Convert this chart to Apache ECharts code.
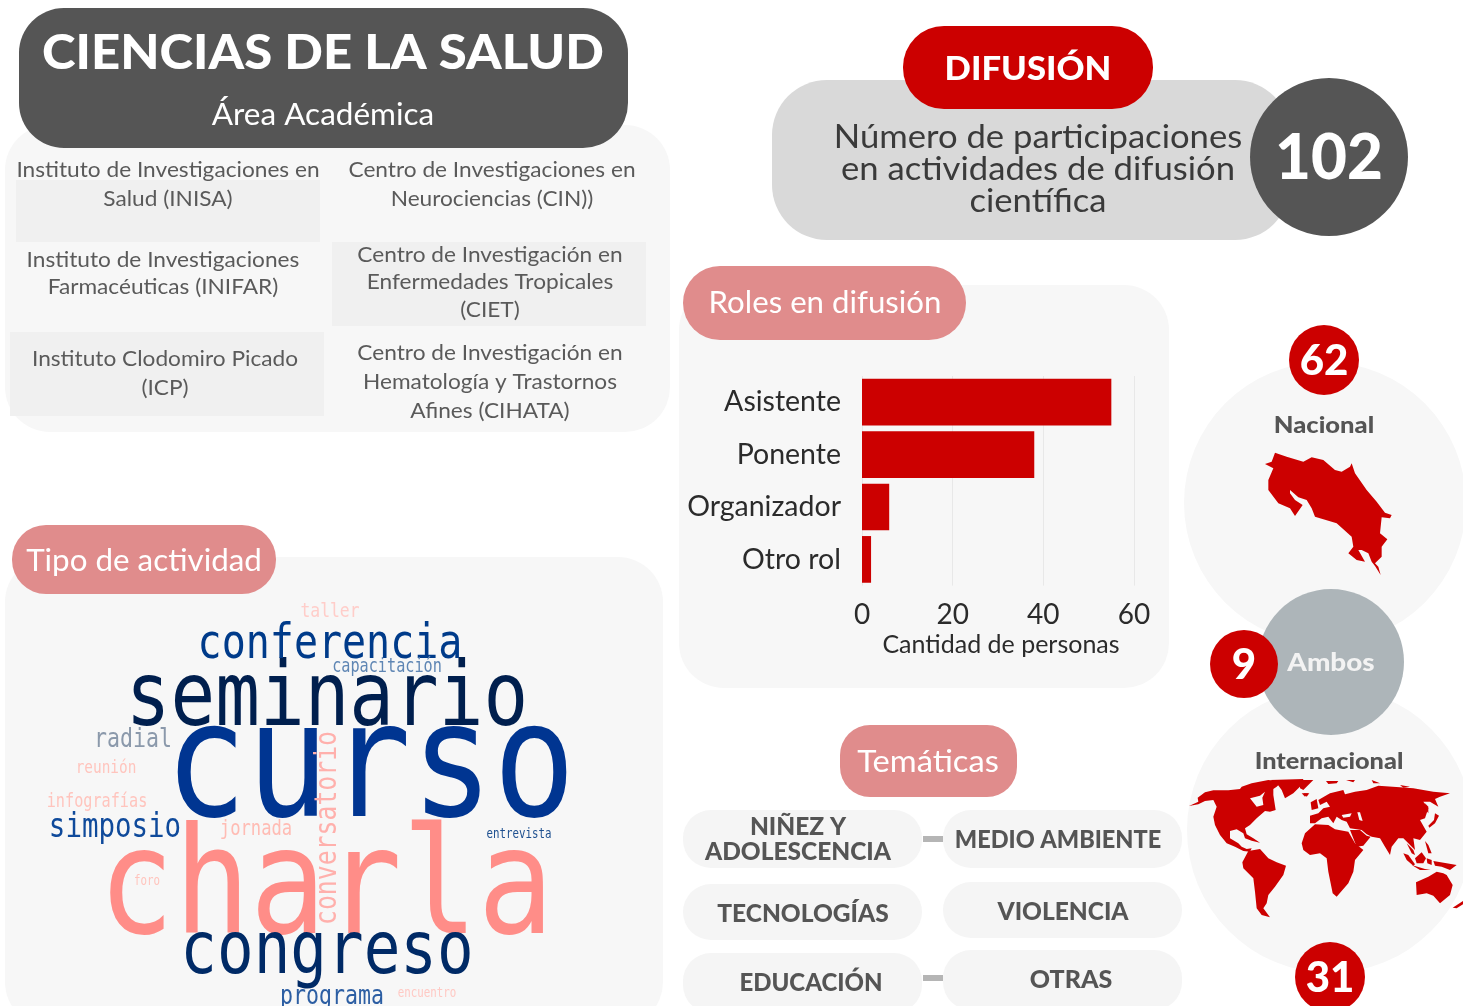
<!DOCTYPE html>
<html lang="es"><head><meta charset="utf-8"><title>Ciencias de la Salud</title>
<style>html,body{margin:0;padding:0;background:#fff}#c{width:1463px;height:1006px}</style>
<script src="https://cdn.jsdelivr.net/npm/echarts@6/dist/echarts.min.js"></script></head>
<body><div id="c"></div>
<script>
const roleCategories = ['Asistente','Ponente','Organizador','Otro rol'];
const roleValues = [55,38,6,2];
const roleTicks = [0,20,40,60];
const cloudWords = ['curso','charla','seminario','congreso','conferencia','simposio','conversatorio','radial','programa','jornada','capacitación','taller','reunión','infografías','entrevista','foro','encuentro'];
const cloudFreq = [32.8,30.3,18.2,15,10,6.8,6.2,5.4,5.4,4.3,3.8,4.1,3.6,3.8,2.7,2.7,2.7];
const totalParticipaciones = 102;
const alcanceLabels = ['Nacional','Ambos','Internacional'];
const alcanceValues = [62,9,31];
const institutos = ['Instituto de Investigaciones en\nSalud (INISA)','Centro de Investigaciones en\nNeurociencias (CIN))','Instituto de Investigaciones\nFarmacéuticas (INIFAR)','Centro de Investigación en\nEnfermedades Tropicales\n(CIET)','Instituto Clodomiro Picado\n(ICP)','Centro de Investigación en\nHematología y Trastornos\nAfines (CIHATA)'];
const tematicas = ['NIÑEZ Y\nADOLESCENCIA','MEDIO AMBIENTE','TECNOLOGÍAS','VIOLENCIA','EDUCACIÓN','OTRAS'];

const RED='#cc0000', DARK='#555555', PANEL='#f7f7f7', PINK='#e08c8c', SANS='Lato, "Open Sans", sans-serif';

// word-cloud placement (centre x, centre y, colour, horizontal stretch, rotated)
const cloudPlace = {
 curso:[370,774,'#003591',1.04], charla:[326,895,'#ff8d88',1.04], seminario:[327,702,'#001f4e',1.02], congreso:[327,954,'#002a66',1.015],
 conferencia:[330,645,'#003b8a',1.0], simposio:[115,828,'#0f4a9b',1.01], conversatorio:[328,828,'#ffb0ac',1,1], radial:[133,740,'#8b99ab',1],
 programa:[332,997,'#2c5ea3',1], jornada:[256,830,'#ffbcb4',1], capacitación:[387,667,'#5f86b4',1], taller:[330,612,'#ffcdc9',1],
 reunión:[106,768,'#ffc4bd',1], infografías:[97,802,'#ffc4bd',1], entrevista:[519,835,'#1d4f8f',1], foro:[147,882,'#ffc4bd',1], encuentro:[427,994,'#ffc9c4',1]
};

const rr=(x,y,w,h,r,fill)=>({type:'rect',shape:{x,y,width:w,height:h,r},style:{fill}});
const circ=(cx,cy,r,fill)=>({type:'circle',shape:{cx,cy,r},style:{fill}});
const txt=(text,x,y,size,fill,weight,lh,sx)=>({type:'text',x,y:y+1,scaleX:sx||1,style:{text,x:0,y:0,fill,textAlign:'center',textVerticalAlign:'middle',
  fontSize:size,fontWeight:weight||400,fontFamily:SANS,lineHeight:lh||Math.round(size*1.2)}});

// map silhouettes, traced in picture units (3 units per pixel); ox/oy place them
const crOutline=[[105,38],[140,50],[190,65],[215,52],[250,60],[285,90],[305,95],[330,80],[335,70],[345,100],[380,150],[410,185],[435,218],[455,225],[450,235],[425,232],[420,280],[442,298],[425,320],[425,350],[405,370],[415,380],[422,405],[405,378],[395,365],[385,340],[365,330],[355,330],[375,365],[350,360],[325,340],[340,320],[335,290],[290,250],[225,230],[215,205],[200,180],[175,172],[150,150],[150,160],[165,180],[188,195],[165,228],[150,205],[115,190],[85,150],[85,120],[100,85],[75,72],[95,65]];
const worldWest=[
 [[12,93],[40,80],[38,68],[60,52],[85,46],[130,46],[165,42],[170,35],[200,25],[250,15],[290,20],[275,35],[265,42],[265,60],[272,105],[255,110],[240,108],[215,130],[195,150],[180,160],[185,178],[205,190],[225,203],[200,197],[180,190],[175,175],[155,163],[135,168],[135,190],[160,205],[170,215],[185,222],[200,220],[195,230],[175,228],[150,215],[125,205],[105,180],[90,150],[85,125],[95,95],[85,75],[60,78],[40,88]],
 [[255,15],[355,12],[350,30],[325,55],[300,70],[290,45],[275,25]],
 [[350,55],[370,55],[360,65]],
 [[172,262],[190,228],[225,222],[250,250],[275,262],[303,272],[295,300],[270,335],[250,360],[245,385],[235,400],[255,427],[230,420],[215,400],[210,350],[205,310],[175,280]]
];
const worldEast=[
 [[5,205],[15,175],[45,148],[85,150],[105,163],[145,170],[165,205],[190,225],[165,255],[160,290],[145,325],[110,365],[98,355],[85,290],[80,250],[60,235],[30,240],[10,225]],
 [[30,145],[30,122],[55,115],[70,100],[90,95],[80,80],[60,90],[55,75],[90,55],[130,45],[135,58],[165,50],[200,45],[235,32],[300,37],[340,40],[400,50],[450,55],[420,65],[405,72],[415,95],[390,80],[370,80],[385,100],[375,130],[360,135],[380,170],[360,195],[340,190],[345,225],[325,205],[310,190],[295,190],[275,215],[270,240],[255,215],[240,190],[215,185],[200,178],[185,165],[150,160],[140,140],[125,135],[110,125],[100,145],[85,125],[65,130],[45,145]],
 [[150,165],[180,165],[200,182],[212,185],[190,212],[170,215]],
 [[32,82],[50,72],[55,100],[35,105]],[[78,18],[115,18],[110,25],[85,27]],[[138,15],[165,15],[160,22]],[[215,15],[240,25],[220,25]],[[300,30],[330,35],[310,38]],
 [[405,115],[417,122],[405,145],[388,158],[385,152],[402,135]],[[375,85],[385,95],[385,115],[378,105]],[[375,198],[385,210],[395,235],[385,235]],
 [[345,250],[365,232],[378,250],[370,265],[350,265]],[[310,235],[325,240],[345,268],[340,272],[320,255]],[[335,270],[375,282],[392,285],[360,285]],
 [[320,205],[340,225],[345,240],[335,235]],[[380,250],[395,255],[395,270],[382,265]],[[400,258],[440,265],[470,270],[450,285],[425,275],[405,272]],
 [[348,322],[385,305],[410,290],[430,295],[440,300],[458,330],[450,360],[420,385],[400,362],[380,355],[350,360]],[[458,398],[489,378],[489,388],[470,400]],
 [[0,15],[40,15],[25,30],[10,45],[0,40]],[[10,55],[28,55],[20,65]]
];
const holesWest=[[[195,70],[225,62],[240,50],[232,68],[235,90],[215,95]]];
const holesEast=[[[172,112],[180,112],[188,138],[178,135]],[[125,120],[155,115],[150,125],[130,128]]];
const poly=(pts,ox,oy,fill)=>({type:'polygon',shape:{points:pts.map(p=>[ox+p[0]/3,oy+p[1]/3])},style:{fill}});

const instPos=[[168,183],[492,183],[163,272],[490,281],[165,372],[490,381]];
const instLh=[29,29,27,27.5,29,29];
const temaBox=[[683,810,239,58],[943,810,239,58],[683,884,239,56],[943,882,239,56],[683,953,239,60],[943,950,239,60]];
const temaPos=[[798,838],[1058,839],[803,913],[1063,911],[811,982],[1071,979]];
const temaSx=[0.98,0.94,0.98,0.98,0.96,1];

const graphicEls=[
 rr(5,125,665,307,45,PANEL),
 rr(16,180,304,62,0,'#f0f0f0'), rr(332,242,314,84,0,'#f0f0f0'), rr(10,332,314,84,0,'#f0f0f0'),
 rr(19,8,609,140,45,DARK),
 txt('CIENCIAS DE LA SALUD',323,53,48,'#fff',900,0,1.06),
 txt('Área Académica',323,114,30,'#fff',400,0,1.05),
 ...institutos.map((s,i)=>txt(s,instPos[i][0],instPos[i][1],22,'#5a5a5a',400,instLh[i],1.03)),
 rr(772,80,518,160,55,'#d9d9d9'),
 rr(903,26,250,83,41,RED),
 txt('DIFUSIÓN',1028,68,33,'#fff',900,0,1.05),
 txt('Número de participaciones\nen actividades de difusión\ncientífica',1038,168,33,'#3a3a3a',400,32,1.05),
 circ(1329,157,79,DARK),
 txt(String(totalParticipaciones),1329,158,62,'#fff',900),
 rr(679,285,490,403,45,PANEL),
 rr(683,266,283,74,37,PINK),
 txt('Roles en difusión',825,302,30,'#fff',400,0,1.04),
 rr(5,557,658,470,45,PANEL),
 rr(12,525,264,69,34,PINK),
 txt('Tipo de actividad',144,560,30,'#fff',400,0,1.045),
 circ(1325,503,141,PANEL), circ(1330,830,143,PANEL),
 circ(1331,662,73,'#adb5b9'),
 circ(1324,360,35,RED), circ(1244,664,34,RED), circ(1330,977,35,RED),
 txt(String(alcanceValues[0]),1324,360,42,'#fff',900),
 txt(String(alcanceValues[1]),1244,664,42,'#fff',900),
 txt(String(alcanceValues[2]),1330,977,42,'#fff',900),
 txt(alcanceLabels[0],1324,425,23,DARK,900,0,1.11),
 txt(alcanceLabels[1],1331,662,24,'#f3f3f3',900,0,1.16),
 txt(alcanceLabels[2],1329,761,23,DARK,900,0,1.1),
 poly(crOutline,1240,440,RED),
 ...worldWest.map(s=>poly(s,1185,775,RED)),
 ...worldEast.map(s=>poly(s,1300,775,RED)),
 ...holesWest.map(s=>poly(s,1185,775,PANEL)),
 ...holesEast.map(s=>poly(s,1300,775,PANEL)),
 rr(840,725,177,72,30,PINK),
 txt('Temáticas',928,761,30,'#fff',400,0,1.09),
 ...temaBox.map(b=>rr(b[0],b[1],b[2],b[3],28,'#f5f5f5')),
 rr(923,836,20,6,0,'#b5b5b5'), rr(923,975,20,6,0,'#b5b5b5'),
 ...tematicas.map((s,i)=>txt(s,temaPos[i][0],temaPos[i][1],25,DARK,900,25,temaSx[i]))
];

const chart=echarts.init(document.getElementById('c'),null,{renderer:'canvas'});
chart.setOption({
 backgroundColor:'#fff',animation:false,
 graphic:{elements:graphicEls},
 grid:[{left:862,top:376,width:272,height:209.6,containLabel:false},{left:0,top:0,width:1463,height:1006}],
 xAxis:[{type:'value',gridIndex:0,min:0,max:60,interval:20,axisLine:{show:false},axisTick:{show:false},
   splitLine:{lineStyle:{color:'#e8e8e8',width:1}},
   axisLabel:{margin:15,fontSize:28,color:'#2b2b2b',fontFamily:SANS,formatter:v=>roleTicks.includes(v)?String(v):''},
   name:'Cantidad de personas',nameLocation:'middle',nameGap:47,nameTextStyle:{fontSize:25,color:'#2b2b2b',fontFamily:SANS,padding:[0,0,0,6]}},
  {type:'value',gridIndex:1,min:0,max:1463,show:false}],
 yAxis:[{type:'category',gridIndex:0,inverse:true,data:roleCategories,axisLine:{show:false},axisTick:{show:false},
   axisLabel:{margin:21,fontSize:28.5,color:'#2b2b2b',fontFamily:SANS,padding:[2,0,0,0]}},
  {type:'value',gridIndex:1,min:0,max:1006,inverse:true,show:false}],
 series:[
  {type:'bar',xAxisIndex:0,yAxisIndex:0,data:roleValues,barWidth:46.7,itemStyle:{color:RED},silent:true},
  {type:'custom',xAxisIndex:1,yAxisIndex:1,silent:true,z:5,clip:false,
   data:cloudWords.map((w,i)=>({name:w,value:[cloudPlace[w][0],cloudPlace[w][1],cloudFreq[i]]})),
   renderItem:(params,api)=>{
     const w=cloudWords[params.dataIndex], pl=cloudPlace[w], c=api.coord([api.value(0),api.value(1)]);
     return {type:'text',x:c[0],y:c[1],scaleY:1.22,scaleX:pl[3],rotation:pl[4]?Math.PI/2:0,
       style:{text:w,x:0,y:0,fill:pl[2],align:'center',verticalAlign:'middle',textAlign:'center',textVerticalAlign:'middle',
         fontSize:api.value(2)*4,fontFamily:'"DejaVu Sans Mono", monospace'}};
   }}
 ]
});
</script></body></html>
